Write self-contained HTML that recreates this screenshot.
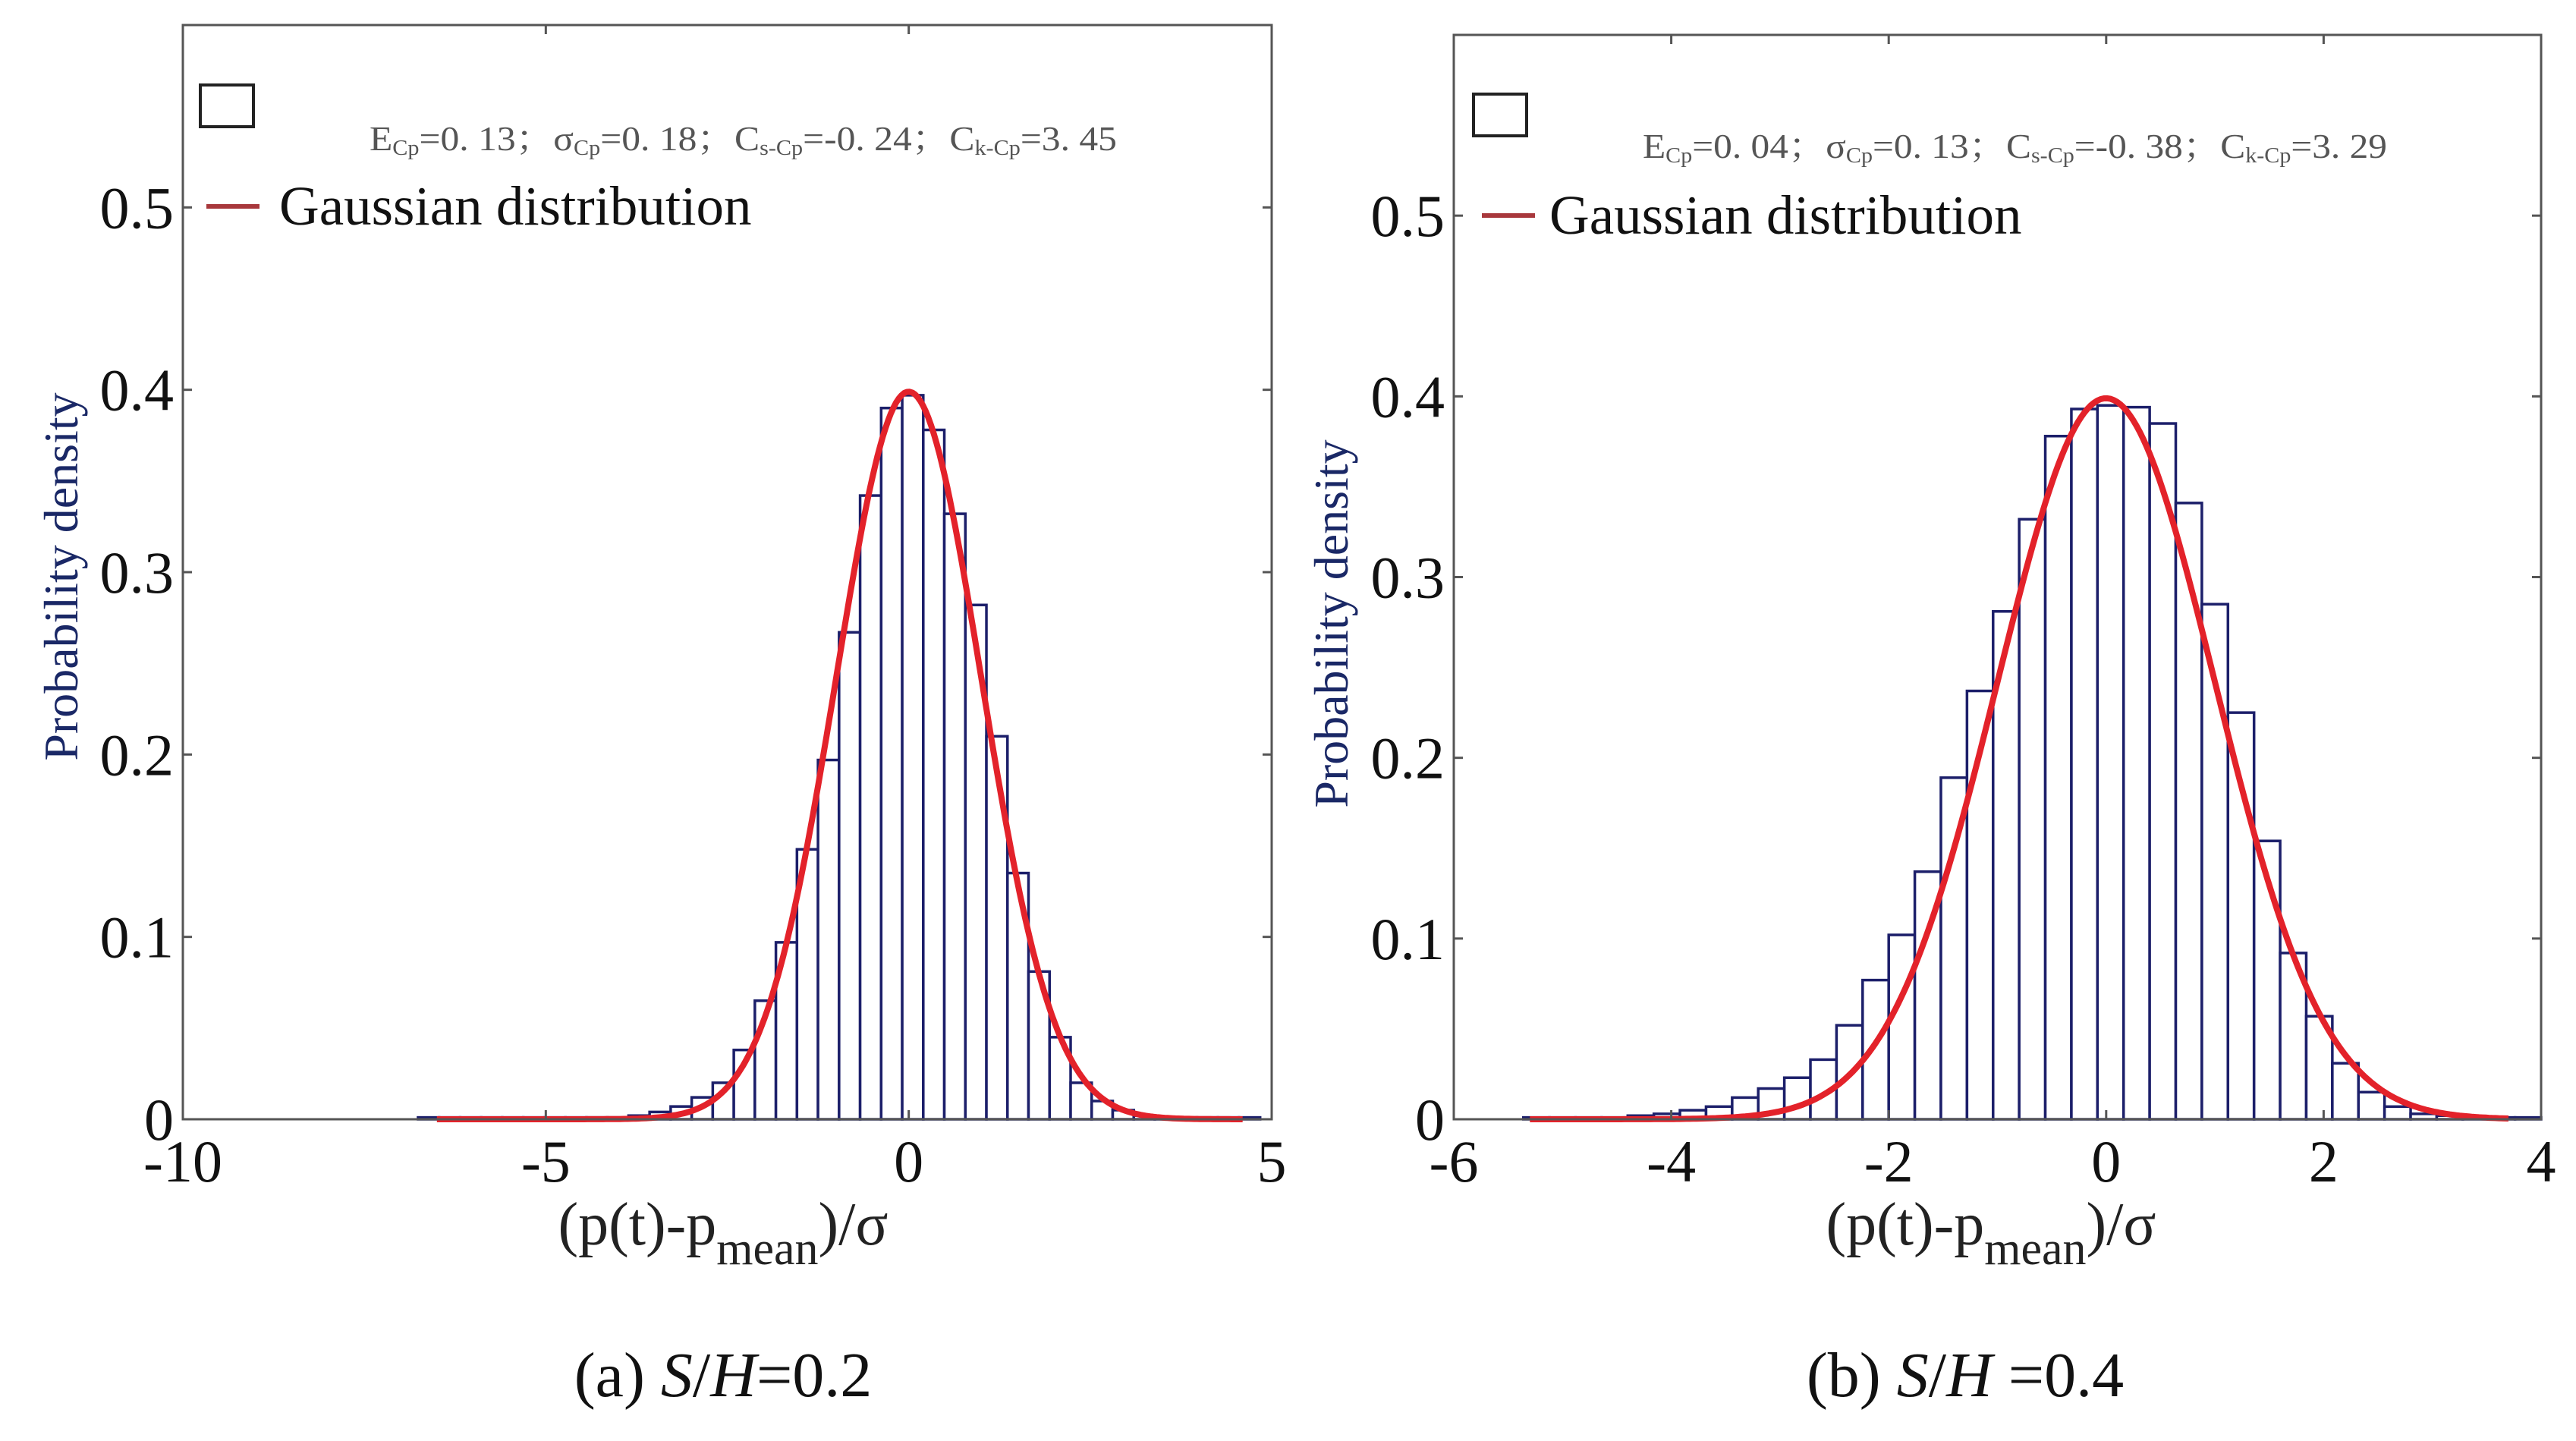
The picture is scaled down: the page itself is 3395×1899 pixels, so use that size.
<!DOCTYPE html>
<html><head><meta charset="utf-8">
<style>
html,body{margin:0;padding:0;background:#fff;}
svg{display:block;}
text{font-family:"Liberation Serif","Noto Serif CJK SC",serif;}
</style></head>
<body>
<svg id="fig" width="3395" height="1899" viewBox="0 0 3395 1899" xmlns="http://www.w3.org/2000/svg"></svg>
<script>
// ---- Chart (a) data ----
const aBinStart = -6.76;
const aBinWidth = 0.29;
const aHeights = [0.001,0.001,0.001,0.001,0.001,0.001,0.001,0.001,0.001,0.001,0.002,0.004,0.007,0.012,0.02,0.038,0.065,0.097,0.148,0.197,0.267,0.342,0.39,
  0.397,0.378,0.332,0.282,0.21,0.135,0.081,0.045,0.02,0.01,0.005,0.002,0.001,0.001,0.001,0.001,0.001];
const aXTicks = [-10,-5,0,5];
const aXTickLabels = ["-10","-5","0","5"];
const aYTicks = [0,0.1,0.2,0.3,0.4,0.5];
const aYTickLabels = ["0","0.1","0.2","0.3","0.4","0.5"];
const aCurveRange = [-6.5,4.6];
// ---- Chart (b) data ----
const bBinStart = -5.36;
const bBinWidth = 0.24;
const bHeights = [0.001,0.001,0.001,0.001,0.002,0.003,0.005,0.007,0.012,0.017,0.023,0.033,0.052,0.077,0.102,0.137,0.189,0.237,0.281,0.332,0.378,0.393,
  0.395,0.394,0.385,0.341,0.285,0.225,0.154,0.092,0.057,0.031,0.015,0.007,0.003,0.002,0.001,0.001,0.001];
const bXTicks = [-6,-4,-2,0,2,4];
const bXTickLabels = ["-6","-4","-2","0","2","4"];
const bYTicks = [0,0.1,0.2,0.3,0.4,0.5];
const bYTickLabels = ["0","0.1","0.2","0.3","0.4","0.5"];
const bCurveRange = [-5.3,3.7];
const gaussMu = [0,0];
const gaussSigma = [1,1];

const NS = "http://www.w3.org/2000/svg";
const svg = document.getElementById('fig');
function mk(tag, attrs, parent){
  const e = document.createElementNS(NS, tag);
  for (const k in attrs) e.setAttribute(k, attrs[k]);
  (parent||svg).appendChild(e);
  return e;
}

function drawChart(cfg){
  const g = mk('g', {});
  
  
  const L=cfg.left, R=cfg.right, T=cfg.top, B=cfg.bottom;
  const xs = v => L + (v - cfg.xmin) / (cfg.xmax - cfg.xmin) * (R - L);
  const ys = v => B - (v - cfg.ymin) / (cfg.ymax - cfg.ymin) * (B - T);

  const bars = mk('g', {}, g);
  
  
  cfg.heights.forEach((h, i) => {
    const x0 = xs(cfg.binStart + i * cfg.binWidth);
    const x1 = xs(cfg.binStart + (i + 1) * cfg.binWidth);
    const r = mk('rect', {x:x0, y:ys(h), width:x1-x0, height:Math.max(ys(0)-ys(h),0.5), fill:'#fff', stroke:'#1c1f6a', 'stroke-width':3.5}, bars);
    
    
  });

  let d = '';
  const n = 300;
  for (let i = 0; i <= n; i++){
    const x = cfg.curveRange[0] + (cfg.curveRange[1]-cfg.curveRange[0]) * i / n;
    const y = Math.exp(-0.5*Math.pow((x-cfg.mu)/cfg.sigma,2)) / (cfg.sigma*Math.sqrt(2*Math.PI));
    d += (i ? 'L' : 'M') + xs(x).toFixed(1) + ' ' + ys(y).toFixed(1);
  }
  const c = mk('path', {d:d, fill:'none', stroke:'#e3222a', 'stroke-width':8, 'stroke-linejoin':'round'}, g);
  
  

  const f = mk('rect', {x:L, y:T, width:R-L, height:B-T, fill:'none', stroke:'#555', 'stroke-width':3}, g);
  
  

  cfg.xTicks.forEach((v, i) => {
    const x = xs(v);
    mk('line', {x1:x, y1:B, x2:x, y2:B-12, stroke:'#555', 'stroke-width':3}, g);
    mk('line', {x1:x, y1:T, x2:x, y2:T+12, stroke:'#555', 'stroke-width':3}, g);
    const t = mk('text', {x:x, y:B+82, 'font-size':78, 'text-anchor':'middle', fill:'#111'}, g);
    t.textContent = cfg.xTickLabels[i];
    
    
  });
  cfg.yTicks.forEach((v, i) => {
    const y = ys(v);
    mk('line', {x1:L, y1:y, x2:L+12, y2:y, stroke:'#555', 'stroke-width':3}, g);
    mk('line', {x1:R, y1:y, x2:R-12, y2:y, stroke:'#555', 'stroke-width':3}, g);
    const t = mk('text', {x:L-12, y:y+27, 'font-size':78, 'text-anchor':'end', fill:'#111'}, g);
    t.textContent = cfg.yTickLabels[i];
    
    
  });

  const yt = mk('text', {x:0, y:0, 'font-size':64, 'text-anchor':'middle', fill:'#1a2866',
    transform:'translate('+cfg.yTitle[0]+','+cfg.yTitle[1]+') rotate(-90)'}, g);
  yt.textContent = 'Probability density';
  
  

  const xt = mk('text', {x:cfg.xTitle[0], y:cfg.xTitle[1], 'font-size':80, 'text-anchor':'middle', fill:'#222'}, g);
  
  
  xt.appendChild(document.createTextNode('(p(t)-p'));
  const sub = mk('tspan', {'font-size':62, dy:26}, xt); sub.textContent = 'mean';
  const rest = mk('tspan', {'font-size':80, dy:-26}, xt); rest.textContent = ')/σ';

  const lg = mk('g', {}, g);
  
  
  const bx = mk('rect', {x:cfg.legend.box[0], y:cfg.legend.box[1], width:70, height:55, fill:'#fff', stroke:'#222', 'stroke-width':4}, lg);
  
  
  const st = mk('text', {x:cfg.legend.stats[0], y:cfg.legend.stats[1], 'font-size':46, fill:'#555',
    textLength:cfg.legend.statsLen, lengthAdjust:'spacingAndGlyphs'}, lg);
  
  
  const parts = cfg.legend.statsParts;
  let prevSub = false;
  parts.forEach(p => {
    const isSub = !!p[1];
    const ts = mk('tspan', {'font-size': isSub ? 28 : 46, dy: isSub && !prevSub ? 6 : (!isSub && prevSub ? -6 : 0)}, st);
    ts.textContent = p[0];
    prevSub = isSub;
  });
  const ll = mk('line', {x1:cfg.legend.line[0], y1:cfg.legend.line[1], x2:cfg.legend.line[0]+70, y2:cfg.legend.line[1], stroke:'#a8383c', 'stroke-width':6}, lg);
  
  
  const lt = mk('text', {x:cfg.legend.text[0], y:cfg.legend.text[1], 'font-size':73, fill:'#111'}, lg);
  lt.textContent = 'Gaussian distribution';
  
  

  const cap = mk('text', {x:cfg.caption[0], y:cfg.caption[1], 'font-size':84, 'text-anchor':'middle', fill:'#111'}, g);
  
  
  cap.appendChild(document.createTextNode(cfg.captionParts[0]));
  const it = mk('tspan', {'font-style':'italic'}, cap); it.textContent = 'S';
  cap.appendChild(document.createTextNode('/'));
  const it2 = mk('tspan', {'font-style':'italic'}, cap); it2.textContent = 'H';
  cap.appendChild(document.createTextNode(cfg.captionParts[1]));
}

drawChart({
  name:'chart-a', left:241, right:1676, top:33, bottom:1475,
  xmin:-10, xmax:5, ymin:0, ymax:0.6,
  binStart:aBinStart, binWidth:aBinWidth, heights:aHeights,
  xTicks:aXTicks, xTickLabels:aXTickLabels, yTicks:aYTicks, yTickLabels:aYTickLabels,
  curveRange:aCurveRange, mu:gaussMu[0], sigma:gaussSigma[0],
  yTitle:[102,760], xTitle:[953,1640],
  legend:{box:[264,112], stats:[487,198], statsLen:985, line:[272,272], text:[368,296],
    statsParts:[['E',0],['Cp',1],['=0. 13；σ',0],['Cp',1],['=0. 18；C',0],['s-Cp',1],['=-0. 24；C',0],['k-Cp',1],['=3. 45',0]]},
  caption:[953,1840], captionParts:['(a) ','=0.2']
});
drawChart({
  name:'chart-b', left:1916, right:3349, top:46, bottom:1475,
  xmin:-6, xmax:4, ymin:0, ymax:0.6,
  binStart:bBinStart, binWidth:bBinWidth, heights:bHeights,
  xTicks:bXTicks, xTickLabels:bXTickLabels, yTicks:bYTicks, yTickLabels:bYTickLabels,
  curveRange:bCurveRange, mu:gaussMu[1], sigma:gaussSigma[1],
  yTitle:[1776,822], xTitle:[2624,1640],
  legend:{box:[1942,124], stats:[2165,208], statsLen:981, line:[1953,284], text:[2042,308],
    statsParts:[['E',0],['Cp',1],['=0. 04；σ',0],['Cp',1],['=0. 13；C',0],['s-Cp',1],['=-0. 38；C',0],['k-Cp',1],['=3. 29',0]]},
  caption:[2590,1840], captionParts:['(b) ',' =0.4']
});
</script>
</body></html>
